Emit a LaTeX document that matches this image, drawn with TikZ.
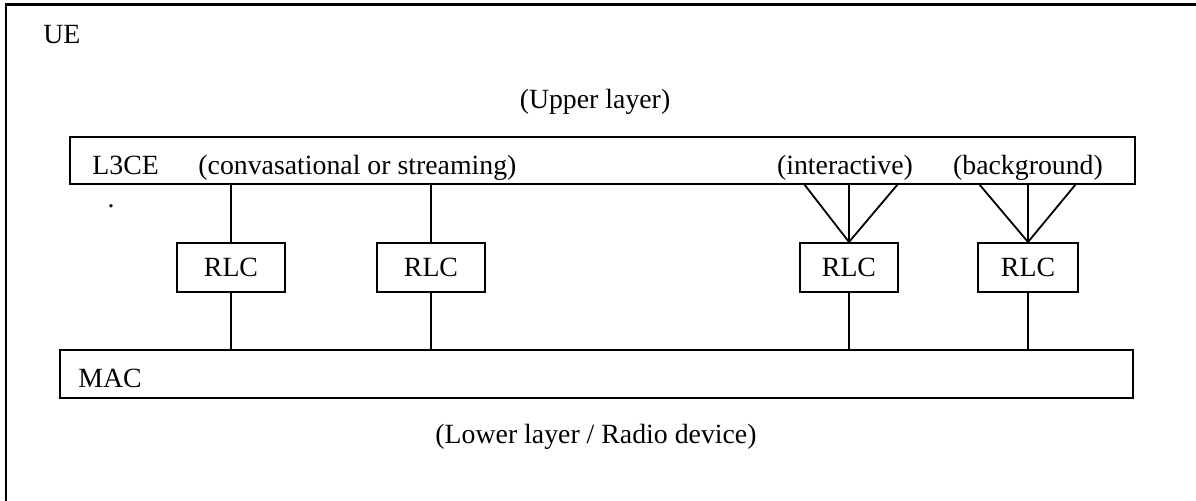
\documentclass[tikz,border=0pt]{standalone}
\usepackage{fontspec}
\setmainfont{Liberation Serif}
\begin{document}
\begin{tikzpicture}[x=0.5pt,y=-0.5pt,
  box/.style={draw, line width=1pt, inner sep=0pt},
  lbl/.style={inner sep=0pt, anchor=base west, font=\fontsize{13.9}{16}\selectfont},
  lblc/.style={inner sep=0pt, anchor=base, font=\fontsize{13.9}{16}\selectfont},
  link/.style={line width=0.9pt}]
\useasboundingbox (0,0) rectangle (1196,500);
% outer UE frame (cut at right and bottom edges)
\draw[line width=1.1pt] (1200,4.5) -- (6,4.5) -- (6,504);
\node[lbl] (ue) at (43,43) {UE};
\node[lblc] (upper) at (595,108) {(Upper layer)};
% layers
\node[box, minimum width=532.5pt, minimum height=23.75pt] (l3) at (602.5,160.25) {};
\node[lbl] (l3t) at (92,174) {L3CE};
\node[lbl] (cs) at (198,174) {(convasational or streaming)};
\node[lblc] (ia) at (845,174) {(interactive)};
\node[lblc] (bg) at (1028,174) {(background)};
\node[box, minimum width=536.5pt, minimum height=24pt] (mac) at (596.5,374) {};
\node[lbl] (mact) at (78,387) {MAC};
\node[lblc] (lower) at (596,443) {(Lower layer / Radio device)};
\node[lblc] (dot) at (111,207) {.};
% RLC entities
\node[box, minimum width=54pt, minimum height=24.5pt, font=\fontsize{13.9}{16}\selectfont] (r1) at (231,267.5) {RLC};
\node[box, minimum width=54pt, minimum height=24.5pt, font=\fontsize{13.9}{16}\selectfont] (r2) at (431,267.5) {RLC};
\node[box, minimum width=49pt, minimum height=24.5pt, font=\fontsize{13.9}{16}\selectfont] (r3) at (849,267.5) {RLC};
\node[box, minimum width=50pt, minimum height=24.5pt, font=\fontsize{13.9}{16}\selectfont] (r4) at (1028,267.5) {RLC};
% fan end points on L3CE
\coordinate (a1) at (804,184);
\coordinate (a3) at (898,184);
\coordinate (b1) at (979,184);
\coordinate (b3) at (1076,184);
% connectors
\draw[link] (r1.north) -- (r1.north |- l3.south);
\draw[link] (r2.north) -- (r2.north |- l3.south);
\draw[link] (r3.north) -- (r3.north |- l3.south);
\draw[link] (r3.north) -- (a1);
\draw[link] (r3.north) -- (a3);
\draw[link] (r4.north) -- (r4.north |- l3.south);
\draw[link] (r4.north) -- (b1);
\draw[link] (r4.north) -- (b3);
\draw[link] (r1.south) -- (r1.south |- mac.north);
\draw[link] (r2.south) -- (r2.south |- mac.north);
\draw[link] (r3.south) -- (r3.south |- mac.north);
\draw[link] (r4.south) -- (r4.south |- mac.north);
\end{tikzpicture}
\end{document}
